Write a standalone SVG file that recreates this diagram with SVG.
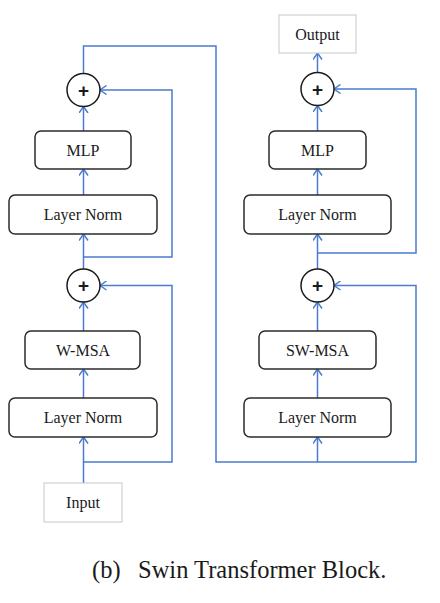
<svg xmlns="http://www.w3.org/2000/svg" width="440" height="603" viewBox="0 0 440 603">
<style>
.box{fill:#fff;stroke:#2b2b2b;stroke-width:1.5}
.io{fill:#fff;stroke:#c8c8c8;stroke-width:1}
.circ{fill:#fff;stroke:#1a1a1a;stroke-width:1.5}
.lbl{font-size:16px;fill:#1a1a1a;text-anchor:middle}
.plus{font-size:19px;font-weight:bold;fill:#1a1a1a;text-anchor:middle}
.ln{fill:none;stroke:#4a7bd0;stroke-width:1.5}
.cap{font-size:24.5px;fill:#1a1a1a}
</style>
<defs>
<marker id="arr" viewBox="0 0 10 10" refX="6.5" refY="5" markerWidth="10" markerHeight="10" markerUnits="userSpaceOnUse" orient="auto">
<path d="M0,0.5 L6.5,5 L0,9.5" fill="none" stroke="#4a7bd0" stroke-width="1.5"/>
</marker>
</defs>
<rect width="440" height="603" fill="#fff"/>
<g id="connectors">
<path class="ln" d="M83.5,483 V437" marker-end="url(#arr)"/>
<path class="ln" d="M83.5,462 H172 V285.5 H100" marker-end="url(#arr)"/>
<path class="ln" d="M83.5,398 V369" marker-end="url(#arr)"/>
<path class="ln" d="M83.5,331 V302" marker-end="url(#arr)"/>
<path class="ln" d="M83.5,269 V234" marker-end="url(#arr)"/>
<path class="ln" d="M83.5,257 H172 V90 H100" marker-end="url(#arr)"/>
<path class="ln" d="M83.5,195 V169" marker-end="url(#arr)"/>
<path class="ln" d="M83.5,131 V106.5" marker-end="url(#arr)"/>
<path class="ln" d="M83.5,73.5 V46 H216 V462 H416 V285.5 H334" marker-end="url(#arr)"/>
<path class="ln" d="M317.5,462 V437" marker-end="url(#arr)"/>
<path class="ln" d="M317.5,398 V369" marker-end="url(#arr)"/>
<path class="ln" d="M317.5,331 V302" marker-end="url(#arr)"/>
<path class="ln" d="M317.5,269 V234" marker-end="url(#arr)"/>
<path class="ln" d="M317.5,253 H416 V89 H334" marker-end="url(#arr)"/>
<path class="ln" d="M317.5,195 V169" marker-end="url(#arr)"/>
<path class="ln" d="M317.5,131 V105.5" marker-end="url(#arr)"/>
<path class="ln" d="M317.5,72.5 V53" marker-end="url(#arr)"/>
</g>
<g font-family="'Liberation Serif', 'Times New Roman', 'DejaVu Serif', serif">
<g id="input"><rect class="io" x="44" y="483" width="78" height="39"/><text class="lbl" x="83" y="508">Input</text></g>
<g id="ln1"><rect class="box" x="9" y="398" width="148" height="39" rx="6"/><text class="lbl" x="83" y="423">Layer Norm</text></g>
<g id="wmsa"><rect class="box" x="25" y="331" width="115" height="38" rx="6"/><text class="lbl" x="83" y="356">W-MSA</text></g>
<g id="add1"><circle class="circ" cx="83.5" cy="285.5" r="16.5"/><text class="plus" x="83.5" y="292" font-family="'Liberation Sans', Arial, sans-serif">+</text></g>
<g id="ln2"><rect class="box" x="9" y="195" width="148" height="39" rx="6"/><text class="lbl" x="83" y="220">Layer Norm</text></g>
<g id="mlp1"><rect class="box" x="35" y="131" width="96" height="38" rx="6"/><text class="lbl" x="83" y="156">MLP</text></g>
<g id="add2"><circle class="circ" cx="83.5" cy="90" r="16.5"/><text class="plus" x="83.5" y="96.5" font-family="'Liberation Sans', Arial, sans-serif">+</text></g>
<g id="ln3"><rect class="box" x="244" y="398" width="147" height="39" rx="6"/><text class="lbl" x="317.5" y="423">Layer Norm</text></g>
<g id="swmsa"><rect class="box" x="259" y="331" width="117" height="38" rx="6"/><text class="lbl" x="317.5" y="356">SW-MSA</text></g>
<g id="add3"><circle class="circ" cx="317.5" cy="285.5" r="16.5"/><text class="plus" x="317.5" y="292" font-family="'Liberation Sans', Arial, sans-serif">+</text></g>
<g id="ln4"><rect class="box" x="244" y="195" width="147" height="39" rx="6"/><text class="lbl" x="317.5" y="220">Layer Norm</text></g>
<g id="mlp2"><rect class="box" x="269" y="131" width="97" height="38" rx="6"/><text class="lbl" x="317.5" y="156">MLP</text></g>
<g id="add4"><circle class="circ" cx="317.5" cy="89" r="16.5"/><text class="plus" x="317.5" y="95.5" font-family="'Liberation Sans', Arial, sans-serif">+</text></g>
<g id="output"><rect class="io" x="279" y="15" width="77" height="38"/><text class="lbl" x="317.5" y="40">Output</text></g>
<g id="caption"><text class="cap" y="578"><tspan x="92">(b)</tspan><tspan x="138">Swin Transformer Block.</tspan></text></g>
</g>
</svg>
